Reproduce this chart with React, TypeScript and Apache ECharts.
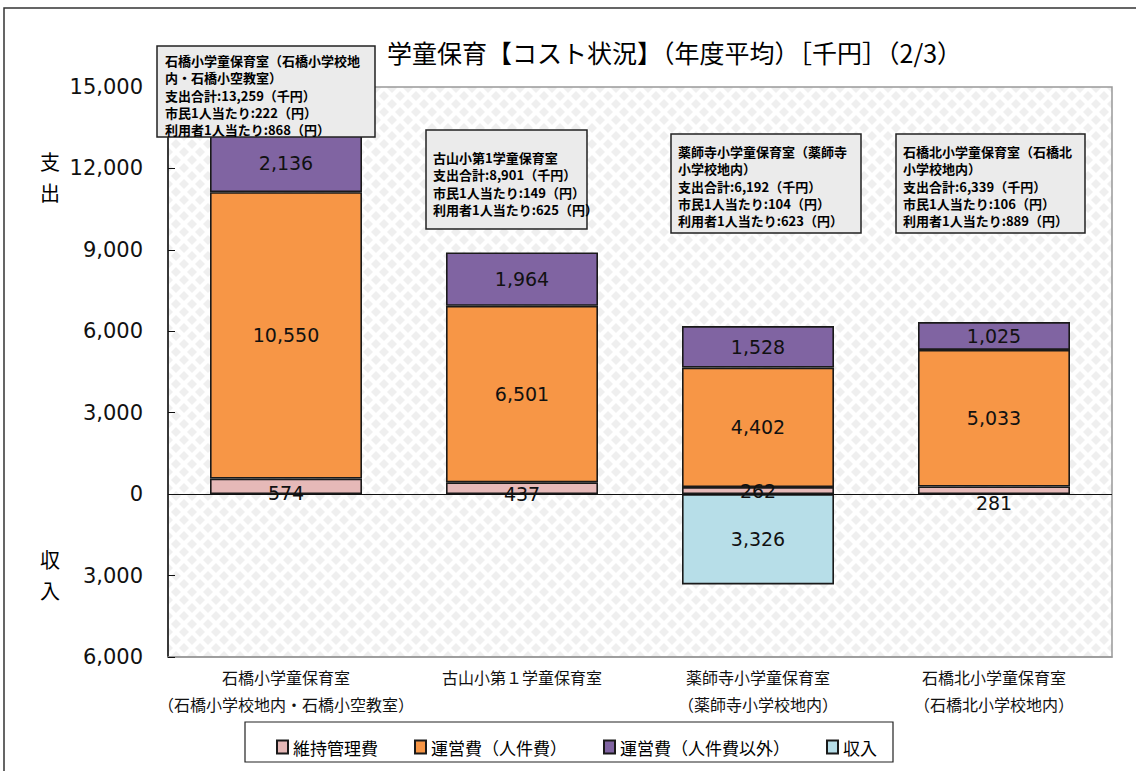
import React, { useEffect, useRef } from 'react';
import * as echarts from 'echarts';

const categories = [
  '石橋小学童保育室\n（石橋小学校地内・石橋小空教室）',
  '古山小第１学童保育室',
  '薬師寺小学童保育室\n（薬師寺小学校地内）',
  '石橋北小学童保育室\n（石橋北小学校地内）',
];
const seriesNames = ['維持管理費', '運営費（人件費）', '運営費（人件費以外）', '収入'];
const maintenance = [574, 437, 262, 281];
const personnel = [10550, 6501, 4402, 5033];
const otherOps = [2136, 1964, 1528, 1025];
const income = [null, null, -3326, null];
const yMin = -6000;
const yMax = 15000;
const yInterval = 3000;

const titleText = '学童保育【コスト状況】（年度平均）［千円］（2/3）';
const notes = [
  ['石橋小学童保育室（石橋小学校地', '内・石橋小空教室）', '支出合計:13,259（千円）', '市民1人当たり:222（円）', '利用者1人当たり:868（円）'],
  ['古山小第1学童保育室', '支出合計:8,901（千円）', '市民1人当たり:149（円）', '利用者1人当たり:625（円）'],
  ['薬師寺小学童保育室（薬師寺', '小学校地内）', '支出合計:6,192（千円）', '市民1人当たり:104（円）', '利用者1人当たり:623（円）'],
  ['石橋北小学童保育室（石橋北', '小学校地内）', '支出合計:6,339（千円）', '市民1人当たり:106（円）', '利用者1人当たり:889（円）'],
];
const sideLabelChars = [
  ['支', '出'],
  ['収', '入'],
];

// layout / style only
const boxLayout = [
  { x: 157, y: 46, w: 218, h: 91, tx: 165, ty: 52 },
  { x: 426, y: 130, w: 161, h: 99, tx: 433, ty: 149 },
  { x: 671, y: 134, w: 190, h: 99, tx: 678, ty: 143 },
  { x: 896, y: 134, w: 189, h: 99, tx: 903, ty: 143 },
];
const sideLabelY = [
  [161, 192],
  [559, 590],
];
const maintLabelOffsetY = [7, 6, 0, 13];
const colors = ['#E6B9B8', '#F79646', '#8064A2', '#B7DEE8'];
const FONT_CJK = '"Noto Sans CJK JP", "Noto Sans", sans-serif';
const FONT_NUM = '"DejaVu Sans", Verdana, sans-serif';

function makePattern() {
  const c = document.createElement('canvas');
  c.width = 16;
  c.height = 16;
  const ctx = c.getContext('2d')!;
  ctx.fillStyle = '#ffffff';
  ctx.fillRect(0, 0, 16, 16);
  ctx.fillStyle = '#efefef';
  const d = (cx: number, cy: number, r: number) => {
    ctx.beginPath();
    ctx.moveTo(cx, cy - r);
    ctx.lineTo(cx + r, cy);
    ctx.lineTo(cx, cy + r);
    ctx.lineTo(cx - r, cy);
    ctx.closePath();
    ctx.fill();
  };
  const r = 5;
  d(8, 8, r);
  d(0, 0, r);
  d(16, 0, r);
  d(0, 16, r);
  d(16, 16, r);
  return c.toDataURL();
}

export default function App() {
  const ref = useRef<HTMLDivElement>(null);
  useEffect(() => {
    document.body.style.margin = '0';
    const chart = echarts.init(ref.current!, null, { renderer: 'svg' });
    const fmt = (v: number) => Math.abs(v).toLocaleString('en-US');
    const labelBase = {
      show: true,
      position: 'inside',
      color: '#111',
      fontFamily: FONT_NUM,
      fontSize: 19,
      formatter: (p: any) => fmt(p.value),
    };
    const itemBase = (i: number) => ({ color: colors[i], borderColor: '#1a1a1a', borderWidth: 1.6 });

    const graphics: any[] = [
      {
        type: 'rect',
        shape: { x: 4, y: 8, width: 1200, height: 800 },
        style: { fill: 'none', stroke: '#333', lineWidth: 1.5 },
        silent: true,
        z: -10,
      },
      {
        type: 'rect',
        shape: { x: 245, y: 722, width: 648, height: 40 },
        style: { fill: '#fff', stroke: '#222', lineWidth: 1.2 },
        silent: true,
        z: -5,
      },
    ];
    sideLabelChars.forEach((chars, i) => {
      chars.forEach((ch, j) => {
        graphics.push({
          type: 'text',
          x: 50,
          y: sideLabelY[i][j],
          style: {
            text: ch,
            font: `20px ${FONT_CJK}`,
            fill: '#000',
            align: 'center',
            verticalAlign: 'middle',
          },
        });
      });
    });
    notes.forEach((lines, i) => {
      const b = boxLayout[i];
      graphics.push({
        type: 'rect',
        z: 100,
        shape: { x: b.x, y: b.y, width: b.w, height: b.h },
        style: { fill: '#EBEBEB', stroke: '#222', lineWidth: 1.5 },
      });
      graphics.push({
        type: 'text',
        z: 101,
        x: b.tx,
        y: b.ty,
        style: {
          text: lines.join('\n'),
          font: `bold 13px ${FONT_CJK}`,
          fill: '#000',
          lineHeight: 17.3,
        },
      });
    });

    chart.setOption({
      animation: false,
      backgroundColor: '#fff',
      title: {
        text: titleText,
        left: 382,
        top: 34,
        textStyle: { fontFamily: FONT_CJK, fontSize: 25, fontWeight: 'normal', color: '#000' },
      },
      legend: {
        left: 271,
        top: 733,
        itemWidth: 11,
        itemHeight: 13,
        itemGap: 36,
        icon: 'rect',
        data: seriesNames,
        textStyle: { fontFamily: FONT_CJK, fontSize: 17, color: '#000', lineHeight: 18 },
      },
      grid: {
        left: 168,
        right: 24,
        top: 87,
        bottom: 114,
        show: true,
        borderColor: '#999',
        borderWidth: 1.5,
        backgroundColor: { image: makePattern(), repeat: 'repeat', imageWidth: 16, imageHeight: 16 } as any,
      },
      xAxis: {
        type: 'category',
        data: categories,
        axisLine: { show: true, onZero: false, lineStyle: { color: '#999', width: 1.5 } },
        axisTick: { show: false },
        axisLabel: {
          interval: 0,
          margin: 6,
          color: '#111',
          fontFamily: FONT_CJK,
          fontSize: 16,
          lineHeight: 27,
        },
      },
      yAxis: {
        type: 'value',
        min: yMin,
        max: yMax,
        interval: yInterval,
        axisLine: { show: true, lineStyle: { color: '#111', width: 1.5 } },
        axisTick: { show: true, inside: true, length: 7, lineStyle: { color: '#111' } },
        splitLine: { show: false },
        axisLabel: { margin: 25, color: '#111', fontFamily: FONT_NUM, fontSize: 21, formatter: (v: number) => fmt(v) },
      },
      graphic: graphics,
      series: [
        {
          name: seriesNames[0],
          type: 'bar',
          stack: 'total',
          barWidth: 152,
          itemStyle: itemBase(0),
          label: labelBase,
          data: maintenance.map((v, i) => ({ value: v, label: { offset: [0, maintLabelOffsetY[i]] } })),
        },
        {
          name: seriesNames[1],
          type: 'bar',
          stack: 'total',
          barWidth: 152,
          itemStyle: itemBase(1),
          label: labelBase,
          data: personnel,
        },
        {
          name: seriesNames[2],
          type: 'bar',
          stack: 'total',
          barWidth: 152,
          itemStyle: itemBase(2),
          label: labelBase,
          data: otherOps,
        },
        {
          name: seriesNames[3],
          type: 'bar',
          stack: 'total',
          barWidth: 152,
          itemStyle: itemBase(3),
          label: { ...labelBase, formatter: (p: any) => (p.value == null ? '' : fmt(p.value)) },
          data: income,
          markLine: {
            silent: true,
            symbol: ['none', 'none'],
            label: { show: false },
            lineStyle: { color: '#111', width: 1, type: 'solid' },
            data: [{ yAxis: 0 }],
          },
        },
      ],
    });
    return () => chart.dispose();
  }, []);
  return <div ref={ref} style={{ width: 1136, height: 771 }} />;
}
